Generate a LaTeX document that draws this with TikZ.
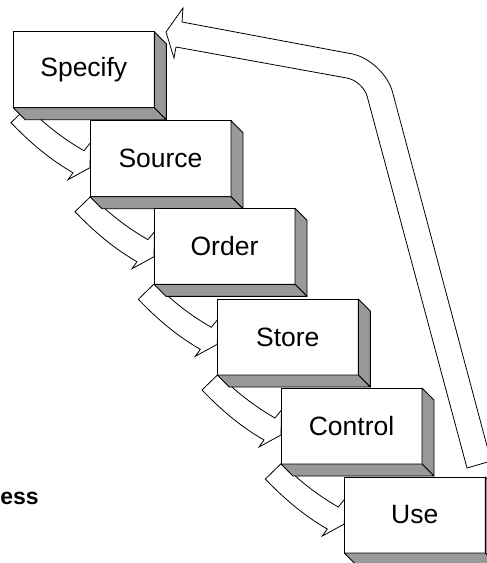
\documentclass[tikz,border=0pt]{standalone}
\usepackage{fontspec}
\setmainfont{Liberation Sans}
\usetikzlibrary{calc,backgrounds}

\tikzset{
  face/.style={draw=black, line width=0.9pt, fill=white,
    minimum width=141pt, minimum height=76pt, inner sep=0pt, outer sep=0pt,
    anchor=north west, font=\fontsize{26.5}{30}\selectfont},
  shadeface/.style={draw=black, line width=0.9pt, fill=black!40, line join=round},
  flowarrow/.style={draw=black, line width=0.8pt, fill=white, line join=miter},
}

% one step: front face plus the grey right side and bottom
\newcommand{\stepblock}[4]{%
  \node[face] (#1) at (#2,#3) {#4};
  \draw[shadeface] (#1.north east) -- ++(12,12) -- ++(0,76) -- (#1.south east) -- cycle;
  \draw[shadeface] (#1.south west) -- (#1.south east) -- ++(12,12) -- ++(-141,0) -- cycle;
}

% curved block arrow from the bottom of one step to the left side of the next
\newcommand{\steparrow}[2]{%
  \begin{scope}[shift={($(#2.west |- #1.south)+(-64,0)$)}]
    \draw[flowarrow] (-15,15) -- (1.5,-1)
      .. controls (18.1,16.3) and (37.1,31) .. (58,43)
      -- (64.5,35) -- (64,60) -- (42,72) -- (47,65)
      .. controls (23.5,51.5) and (3.6,34.4) .. cycle;
  \end{scope}
}

\begin{document}
\begin{tikzpicture}[x=1pt, y=-1pt]
  \useasboundingbox (0,0) rectangle (487,563);
  \clip (0,0) rectangle (487,563);

  \stepblock{specify}{13.3}{31.7}{Specify}
  \stepblock{source}{90}{120.7}{Source}
  \stepblock{order}{154}{208.3}{Order}
  \stepblock{store}{217.3}{299}{Store}
  \stepblock{control}{281}{388}{Control}
  \stepblock{use}{344.3}{477}{Use}

  \begin{pgfonlayer}{background}
    \steparrow{specify}{source}
    \steparrow{source}{order}
    \steparrow{order}{store}
    \steparrow{store}{control}
    \steparrow{control}{use}

    % long return arrow from Use back up to Specify
    \draw[flowarrow] (166,32) -- (183,8) -- (182,22) -- (351.6,53.8)
      .. controls (369.4,57.2) and (387.8,74.4) .. (392.5,91.9)
      -- (491,461) -- (467,468) -- (367.2,96.5)
      .. controls (364.9,88) and (355.9,79.7) .. (347.3,78.1)
      -- (176,47) -- (174,58) -- cycle;
  \end{pgfonlayer}

  \node[anchor=base west, inner sep=0pt, font=\fontsize{23}{27}\selectfont\bfseries]
    (title) at (0.2,504.5) {ess};
\end{tikzpicture}
\end{document}
